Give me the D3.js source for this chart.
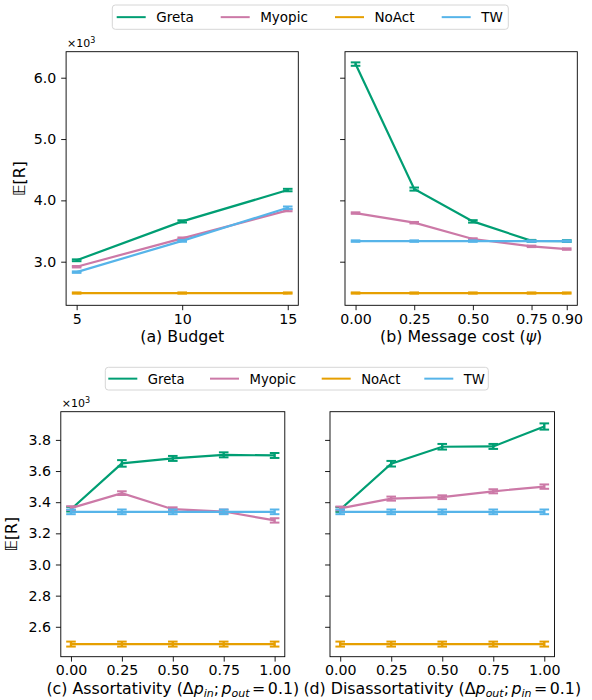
<!DOCTYPE html>
<html>
<head>
<meta charset="utf-8">
<script src="https://cdn.jsdelivr.net/npm/d3@7"></script>
<style>
  body { margin: 0; background: #fff; }
  svg { font-family: "DejaVu Sans", sans-serif; }
</style>
</head>
<body>
<svg id="chart" width="592" height="700"></svg>
<script>
// data (values in units of 10^3)
const methods = ["Greta", "Myopic", "NoAct", "TW"];
const colors = ["#009e73", "#cc79a7", "#e69f00", "#56b4e9"];

const budgetX = [5, 10, 15];
const budgetVals = [
  [3.023, 3.657, 4.168],
  [2.918, 3.380, 3.837],
  [2.489, 2.489, 2.489],
  [2.830, 3.340, 3.880]
];
const budgetErr = [
  [0.015, 0.018, 0.020],
  [0.012, 0.015, 0.015],
  [0.010, 0.010, 0.010],
  [0.012, 0.015, 0.020]
];

const costX = [0, 0.25, 0.5, 0.75, 0.9];
const costVals = [
  [6.222, 4.184, 3.657, 3.340, 3.336],
  [3.793, 3.636, 3.370, 3.250, 3.206],
  [2.489, 2.489, 2.489, 2.489, 2.489],
  [3.336, 3.336, 3.336, 3.336, 3.336]
];
const costErr = [
  [0.028, 0.025, 0.020, 0.015, 0.015],
  [0.012, 0.012, 0.012, 0.012, 0.012],
  [0.010, 0.010, 0.010, 0.010, 0.010],
  [0.012, 0.012, 0.012, 0.012, 0.012]
];

const assortX = [0, 0.25, 0.5, 0.75, 1.0];
const assortVals = [
  [3.355, 3.649, 3.681, 3.704, 3.700],
  [3.362, 3.458, 3.355, 3.340, 3.283],
  [2.489, 2.489, 2.489, 2.489, 2.489],
  [3.338, 3.338, 3.338, 3.338, 3.338]
];
const assortErr = [
  [0.015, 0.021, 0.016, 0.016, 0.016],
  [0.012, 0.012, 0.012, 0.012, 0.014],
  [0.016, 0.016, 0.016, 0.016, 0.016],
  [0.015, 0.015, 0.015, 0.015, 0.015]
];

const disX = [0, 0.25, 0.5, 0.75, 1.0];
const disVals = [
  [3.353, 3.647, 3.756, 3.758, 3.886],
  [3.360, 3.423, 3.432, 3.470, 3.500],
  [2.489, 2.489, 2.489, 2.489, 2.489],
  [3.338, 3.338, 3.338, 3.338, 3.338]
];
const disErr = [
  [0.015, 0.018, 0.018, 0.016, 0.020],
  [0.012, 0.013, 0.012, 0.013, 0.014],
  [0.016, 0.016, 0.016, 0.016, 0.016],
  [0.015, 0.015, 0.015, 0.015, 0.015]
];

const topTicks = [3.0, 4.0, 5.0, 6.0];
const botTicks = [2.6, 2.8, 3.0, 3.2, 3.4, 3.6, 3.8];

const svg = d3.select("#chart");
const tickLen = 4.9;

//PANELS
const panels = [
  { x: budgetX, vals: budgetVals, err: budgetErr, ticks: budgetX, fmt: d3.format("d"),
    xd: [4.5, 15.5], yd: [2.289, 6.424], yt: topTicks, yfmt: d3.format(".1f"),
    box: [66.1, 51.7, 298.3, 305.3], ylab: true, label: "a" },
  { x: costX, vals: costVals, err: costErr, ticks: costX, fmt: d3.format(".2f"),
    xd: [-0.045, 0.945], yd: [2.289, 6.424], yt: topTicks, yfmt: null,
    box: [345, 51.7, 577.3, 305.3], ylab: false, label: "b" },
  { x: assortX, vals: assortVals, err: assortErr, ticks: assortX, fmt: d3.format(".2f"),
    xd: [-0.05, 1.05], yd: [2.408, 3.981], yt: botTicks, yfmt: d3.format(".1f"),
    box: [60.8, 411.7, 284.8, 656.7], ylab: true, label: "c" },
  { x: disX, vals: disVals, err: disErr, ticks: disX, fmt: d3.format(".2f"),
    xd: [-0.05, 1.05], yd: [2.408, 3.981], yt: botTicks, yfmt: null,
    box: [330, 411.7, 554.5, 656.7], ylab: false, label: "d" }
];

panels.forEach(p => {
  const [x0, y0, x1, y1] = p.box;
  const xs = d3.scaleLinear().domain(p.xd).range([x0, x1]);
  const ys = d3.scaleLinear().domain(p.yd).range([y1, y0]);
  const g = svg.append("g");

  // axes
  const xa = g.append("g").attr("transform", `translate(0,${y1})`)
    .call(d3.axisBottom(xs).tickValues(p.ticks).tickFormat(p.fmt)
      .tickSize(tickLen).tickPadding(4.9).tickSizeOuter(0));
  const ya = g.append("g").attr("transform", `translate(${x0},0)`)
    .call(d3.axisLeft(ys).tickValues(p.yt).tickFormat(p.yfmt ? p.yfmt : () => "")
      .tickSize(tickLen).tickPadding(4.9).tickSizeOuter(0));
  [xa, ya].forEach(a => {
    a.select(".domain").remove();
    a.selectAll("line").attr("stroke", "#000").attr("stroke-width", 0.9);
    a.selectAll("text").attr("font-size", 14.2).attr("fill", "#000")
      .attr("font-family", "DejaVu Sans");
  });
  xa.selectAll("text").attr("dy", null).attr("y", 18.5);

  // series
  const line = d3.line().x((d, i) => xs(p.x[i])).y(d => ys(d));
  p.vals.forEach((vals, k) => {
    const c = colors[k];
    const s = g.append("g");
    s.append("path").datum(vals).attr("d", line)
      .attr("fill", "none").attr("stroke", c).attr("stroke-width", 2.2);
    const eb = s.selectAll("g.eb").data(vals).enter().append("g");
    eb.append("line")
      .attr("x1", (d, i) => xs(p.x[i])).attr("x2", (d, i) => xs(p.x[i]))
      .attr("y1", (d, i) => ys(d - p.err[k][i])).attr("y2", (d, i) => ys(d + p.err[k][i]))
      .attr("stroke", c).attr("stroke-width", 2.4);
    [-1, 1].forEach(sg => {
      eb.append("line")
        .attr("x1", (d, i) => xs(p.x[i]) - 4.8).attr("x2", (d, i) => xs(p.x[i]) + 4.8)
        .attr("y1", (d, i) => ys(d + sg * p.err[k][i])).attr("y2", (d, i) => ys(d + sg * p.err[k][i]))
        .attr("stroke", c).attr("stroke-width", 2);
    });
  });

  // frame
  g.append("rect").attr("x", x0).attr("y", y0).attr("width", x1 - x0).attr("height", y1 - y0)
    .attr("fill", "none").attr("stroke", "#000").attr("stroke-width", 0.9);

  if (p.ylab) {
    g.append("text").attr("x", x0 + 1).attr("y", y0 - 5).attr("font-size", 11)
      .text("×10").append("tspan").attr("font-size", 8).attr("dy", -4).text("3");
    const lx = p.label === "a" ? 25 : 17;
    g.append("text")
      .attr("transform", `translate(${lx},${(y0 + y1) / 2}) rotate(-90)`)
      .attr("text-anchor", "middle").attr("font-size", 15.8)
      .text("𝔼[R]");
  }

  // x label (math parts set tight, like mathtext)
  const xl = g.append("text").attr("x", (x0 + x1) / 2).attr("y", y1 + 37)
    .attr("text-anchor", "middle").attr("font-size", 15.8);
  if (p.label === "a") {
    xl.text("(a) Budget");
  } else if (p.label === "b") {
    xl.append("tspan").text("(b) Message cost (");
    xl.append("tspan").attr("font-style", "italic").text("ψ");
    xl.append("tspan").text(")");
  } else {
    const a = p.label === "c" ? ["in", "out"] : ["out", "in"];
    xl.append("tspan").text(p.label === "c" ? "(c) Assortativity (Δ" : "(d) Disassortativity (Δ");
    xl.append("tspan").attr("font-style", "italic").text("p");
    xl.append("tspan").attr("font-style", "italic").attr("font-size", 11).attr("dy", 3.5).text(a[0]);
    xl.append("tspan").attr("dy", -3.5).text(";");
    xl.append("tspan").attr("font-style", "italic").attr("dx", 2.5).text("p");
    xl.append("tspan").attr("font-style", "italic").attr("font-size", 11).attr("dy", 3.5).text(a[1]);
    xl.append("tspan").attr("dy", -3.5).attr("dx", 2.5).text("=");
    xl.append("tspan").attr("dx", 2.5).text("0.1)");
  }
});

//LEGENDS
function drawLegend(box, offsets, fs) {
  const [lx0, ly0, lx1, ly1] = box;
  const g = svg.append("g");
  g.append("rect").attr("x", lx0).attr("y", ly0).attr("width", lx1 - lx0).attr("height", ly1 - ly0)
    .attr("rx", 3).attr("fill", "#fff").attr("stroke", "#d6d6d6").attr("stroke-width", 1);
  const cy = (ly0 + ly1) / 2;
  methods.forEach((m, i) => {
    const sx = lx0 + offsets[i];
    g.append("line").attr("x1", sx).attr("x2", sx + 29).attr("y1", cy).attr("y2", cy)
      .attr("stroke", colors[i]).attr("stroke-width", 2);
    g.append("text").attr("x", sx + 39.5).attr("y", cy + 5).attr("font-size", fs).text(m);
  });
}
drawLegend([112.3, 5, 508.3, 29.3], [4.4, 108.4, 222.7, 329.4], 13.5);
drawLegend([105.3, 367.3, 488.3, 390], [3, 104.7, 216.4, 319], 13.2);
</script>
</body>
</html>
